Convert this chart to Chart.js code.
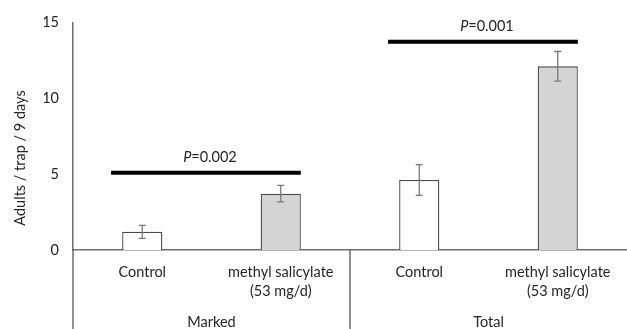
<!DOCTYPE html>
<html>
<head>
<meta charset="utf-8">
<script src="https://cdn.jsdelivr.net/npm/chart.js@4"></script>
<style>
html,body{margin:0;padding:0;background:#fff;}
#wrap{width:627px;height:329px;position:relative;}
</style>
</head>
<body>
<div id="wrap"><canvas id="c" width="627" height="329"></canvas></div>
<script>
// ---- data ----
const categories = [['Control'], ['methyl salicylate', '(53 mg/d)'], ['Control'], ['methyl salicylate', '(53 mg/d)']];
const groups = ['Marked', 'Total'];
const means = [1.2, 3.72, 4.62, 12.12];
const errors = [0.43, 0.55, 1.02, 0.98];
const yTicks = [0, 5, 10, 15];
const sigPairs = [[0, 1], [2, 3]];
const sigLevels = [5.1, 13.75];
const sigLabels = ['0.002', '0.001'];
const yTitle = 'Adults / trap / 9 days';

const FONT = 'Lato';
const FS = 14.5;
const TXT = '#262626';
const AXIS = '#6e6e6e';

const extras = {
  id: 'extras',
  afterDatasetsDraw(chart) {
    const ctx = chart.ctx;
    const x = chart.scales.x, y = chart.scales.y;
    const area = chart.chartArea;
    const H = chart.height;
    ctx.save();
    // error bars
    ctx.strokeStyle = '#7a7a7a';
    ctx.lineWidth = 1.3;
    means.forEach((m, i) => {
      const cx = x.getPixelForValue(i);
      const t = y.getPixelForValue(m + errors[i]);
      const b = y.getPixelForValue(m - errors[i]);
      ctx.beginPath();
      ctx.moveTo(cx, t); ctx.lineTo(cx, b);
      ctx.moveTo(cx - 3.5, t); ctx.lineTo(cx + 3.5, t);
      ctx.moveTo(cx - 3.5, b); ctx.lineTo(cx + 3.5, b);
      ctx.stroke();
    });
    // extended y axis line and group separator
    ctx.strokeStyle = AXIS;
    ctx.lineWidth = 1.5;
    ctx.beginPath();
    ctx.moveTo(area.left, area.bottom); ctx.lineTo(area.left, H);
    const sep = (x.getPixelForValue(1) + x.getPixelForValue(2)) / 2;
    ctx.moveTo(sep, area.bottom); ctx.lineTo(sep, H);
    ctx.stroke();
    // significance lines
    const step = x.getPixelForValue(1) - x.getPixelForValue(0);
    sigPairs.forEach((p, k) => {
      const x0 = x.getPixelForValue(p[0]) - 0.225 * step;
      const x1 = x.getPixelForValue(p[1]) + 0.145 * step;
      const yy = y.getPixelForValue(sigLevels[k]);
      ctx.strokeStyle = '#000';
      ctx.lineWidth = 4;
      ctx.beginPath();
      ctx.moveTo(x0, yy); ctx.lineTo(x1, yy);
      ctx.stroke();
      // label
      ctx.fillStyle = TXT;
      ctx.textBaseline = 'middle';
      const fi = 'italic ' + FS + 'px ' + FONT;
      const fn = FS + 'px ' + FONT;
      ctx.font = fi; const w1 = ctx.measureText('P').width;
      ctx.font = fn; const s = '=' + sigLabels[k]; const w2 = ctx.measureText(s).width;
      const cx = (x0 + x1) / 2 + 4;
      const sx = cx - (w1 + w2) / 2;
      const ty = yy - 15;
      ctx.font = fi; ctx.textAlign = 'left'; ctx.fillText('P', sx, ty);
      ctx.font = fn; ctx.fillText(s, sx + w1, ty);
    });
    // y axis title
    ctx.translate(20, 158);
    ctx.rotate(-Math.PI / 2);
    ctx.font = FS + 'px ' + FONT;
    ctx.textAlign = 'center';
    ctx.textBaseline = 'middle';
    ctx.fillStyle = TXT;
    ctx.fillText(yTitle, 0, 0);
    ctx.restore();
  }
};

new Chart(document.getElementById('c'), {
  type: 'bar',
  data: {
    labels: categories,
    datasets: [{
      data: means,
      backgroundColor: ['#ffffff', '#d4d4d4', '#ffffff', '#d4d4d4'],
      borderColor: '#4a4a4a',
      borderWidth: 1.3,
      borderSkipped: 'bottom',
      barPercentage: 0.29,
      categoryPercentage: 1.0
    }]
  },
  options: {
    responsive: false,
    animation: false,
    devicePixelRatio: 1,
    layout: { padding: { top: 11, right: 0, left: 44, bottom: 0 } },
    plugins: { legend: { display: false }, tooltip: { enabled: false } },
    scales: {
      x: {
        type: 'category',
        grid: { display: false, drawTicks: false },
        border: { display: true, color: AXIS, width: 1.5 },
        ticks: { color: TXT, font: { family: FONT, size: FS, lineHeight: 1.3 }, padding: 12.6, maxRotation: 0, autoSkip: false },
        afterFit: (s) => { s.height = 50; }
      },
      x2: {
        type: 'category',
        labels: groups,
        position: 'bottom',
        grid: { display: false, drawTicks: false },
        border: { display: false },
        ticks: { color: TXT, font: { family: FONT, size: FS, lineHeight: 1.0 }, padding: 14.75, maxRotation: 0 },
        afterFit: (s) => { s.height = 29; }
      },
      y: {
        min: 0, max: 15,
        afterBuildTicks: (s) => { s.ticks = yTicks.map(v => ({ value: v })); },
        grid: { display: false, drawTicks: false },
        border: { display: true, color: AXIS, width: 1.5 },
        ticks: { color: TXT, font: { family: FONT, size: FS }, padding: 14 },
        title: { display: false },
        afterFit: (s) => { s.width = 29; }
      }
    }
  },
  plugins: [extras]
});
</script>
</body>
</html>
